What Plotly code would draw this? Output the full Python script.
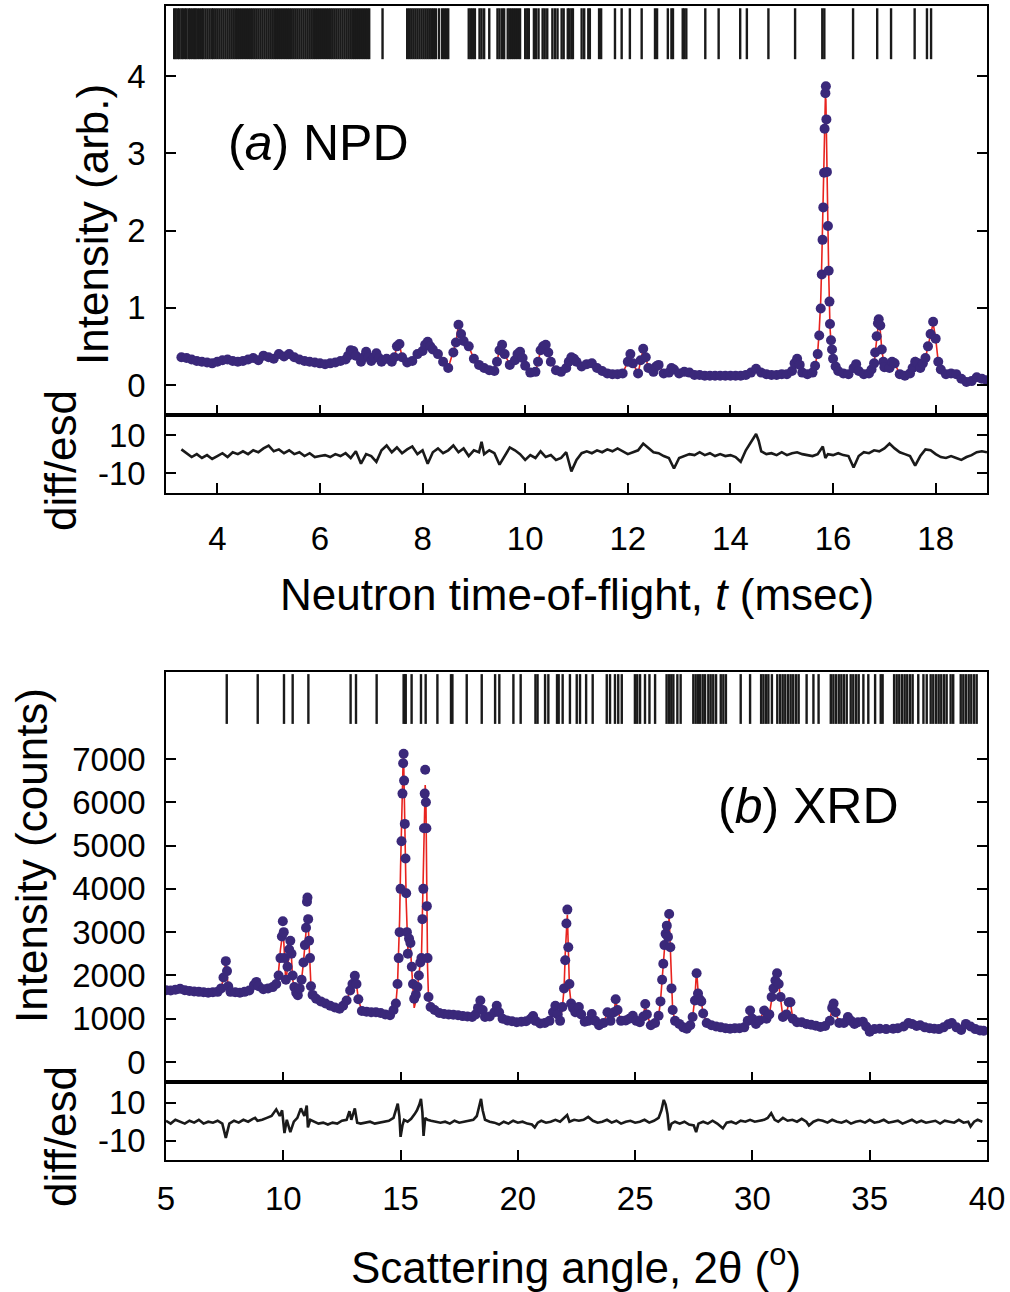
import plotly.graph_objects as go

# ---------------- (a) NPD data ----------------
npd_t = [
    3.3, 3.4, 3.5, 3.6, 3.7, 3.8, 3.9, 4.0, 4.1, 4.2,
    4.3, 4.4, 4.5, 4.6, 4.7, 4.8, 4.9, 5.0, 5.1, 5.2,
    5.3, 5.4, 5.5, 5.6, 5.7, 5.8, 5.9, 6.0, 6.1, 6.2,
    6.3, 6.4, 6.5, 6.55, 6.6, 6.65, 6.7, 6.8, 6.85, 6.9,
    6.95, 7.0, 7.05, 7.1, 7.15, 7.2, 7.3, 7.4, 7.45, 7.5,
    7.55, 7.6, 7.7, 7.8, 7.9, 8.0, 8.05, 8.1, 8.15, 8.2,
    8.3, 8.4, 8.5, 8.6, 8.65, 8.7, 8.75, 8.8, 8.9, 9.0,
    9.1, 9.2, 9.3, 9.4, 9.45, 9.5, 9.55, 9.6, 9.7, 9.8,
    9.85, 9.9, 9.95, 10.0, 10.1, 10.2, 10.25, 10.3, 10.35, 10.4,
    10.45, 10.5, 10.6, 10.7, 10.8, 10.85, 10.9, 10.95, 11.0, 11.1,
    11.2, 11.3, 11.4, 11.5, 11.6, 11.7, 11.8, 11.9, 12.0, 12.05,
    12.1, 12.2, 12.25, 12.3, 12.35, 12.4, 12.5, 12.55, 12.6, 12.7,
    12.8, 12.85, 12.9, 13.0, 13.1, 13.2, 13.3, 13.4, 13.5, 13.6,
    13.7, 13.8, 13.9, 14.0, 14.1, 14.2, 14.3, 14.4, 14.5, 14.6,
    14.7, 14.8, 14.9, 15.0, 15.1, 15.2, 15.25, 15.3, 15.35, 15.4,
    15.5, 15.6, 15.65, 15.7, 15.73, 15.76, 15.78, 15.795, 15.81, 15.825,
    15.835, 15.85, 15.86, 15.87, 15.88, 15.9, 15.915, 15.93, 15.94, 15.96,
    15.98, 16.0, 16.05, 16.1, 16.2, 16.3, 16.4, 16.45, 16.5, 16.6,
    16.7, 16.75, 16.8, 16.82, 16.85, 16.875, 16.89, 16.92, 16.95, 16.98,
    17.0, 17.1, 17.15, 17.2, 17.3, 17.4, 17.5, 17.55, 17.6, 17.65,
    17.7, 17.75, 17.8, 17.85, 17.9, 17.95, 18.0, 18.05, 18.1, 18.2,
    18.3, 18.4, 18.5, 18.6, 18.7, 18.8, 18.9, 19.0,
]
npd_obs = [
    .36, .35, .33, .31, .30, .29, .28, .30, .32, .33,
    .31, .30, .31, .33, .35, .32, .38, .36, .34, .40,
    .37, .40, .36, .33, .31, .30, .29, .28, .27, .28,
    .29, .31, .33, .38, .45, .44, .38, .30, .36, .43,
    .36, .31, .36, .41, .35, .30, .34, .30, .36, .50,
    .53, .36, .29, .31, .40, .44, .52, .56, .50, .46,
    .40, .30, .22, .42, .55, .78, .66, .57, .50, .34,
    .26, .22, .19, .18, .30, .45, .52, .40, .26, .32,
    .40, .43, .35, .25, .16, .17, .30, .45, .50, .52,
    .42, .30, .19, .17, .22, .30, .36, .34, .30, .24,
    .27, .28, .22, .18, .15, .14, .14, .15, .30, .40,
    .28, .15, .32, .47, .36, .22, .17, .24, .26, .15,
    .16, .22, .20, .15, .17, .16, .13, .13, .12, .12,
    .12, .12, .12, .12, .12, .12, .13, .16, .21, .16,
    .14, .13, .13, .14, .14, .18, .28, .34, .26, .16,
    .14, .16, .25, .40, .64, .99, 1.43, 1.88, 2.30, 2.75,
    3.32, 3.78, 3.87, 3.44, 2.76, 2.06, 1.48, 1.08, .79, .58,
    .46, .34, .24, .18, .15, .14, .22, .27, .18, .14,
    .15, .20, .28, .42, .63, .80, .85, .77, .46, .30,
    .23, .22, .30, .28, .14, .12, .15, .22, .30, .28,
    .22, .28, .35, .50, .66, .82, .60, .30, .20, .14,
    .15, .14, .08, .04, .05, .10, .08, .06,
]
# calculated profile: where it is not listed here it lies on the observed points
npd_calc_peaks = {
    15.7: .42, 15.73: .70, 15.76: 1.10, 15.78: 1.60, 15.795: 2.10, 15.81: 2.70,
    15.825: 3.20, 15.835: 3.50, 15.85: 3.72, 15.86: 3.70, 15.87: 3.40, 15.88: 2.80,
    15.915: 1.45, 15.93: 1.00, 15.94: .75, 15.96: .55, 15.98: .42, 16.0: .32,
    16.45: .31, 16.875: .74, 16.89: .76, 16.92: .70, 17.6: .36, 17.65: .31, 17.95: .80,
}
npd_diff_t = [
    3.3, 3.4, 3.5, 3.6, 3.7, 3.8, 3.9, 4.0, 4.1, 4.2,
    4.3, 4.4, 4.5, 4.6, 4.7, 4.8, 4.9, 5.0, 5.1, 5.2,
    5.3, 5.4, 5.5, 5.6, 5.7, 5.8, 5.9, 6.0, 6.1, 6.2,
    6.3, 6.4, 6.5, 6.6, 6.7, 6.8, 6.9, 7.0, 7.1, 7.2,
    7.3, 7.4, 7.5, 7.6, 7.7, 7.8, 7.9, 8.0, 8.1, 8.2,
    8.3, 8.4, 8.5, 8.6, 8.7, 8.8, 8.9, 9.0, 9.1, 9.15,
    9.2, 9.3, 9.4, 9.5, 9.6, 9.7, 9.8, 9.9, 10.0, 10.1,
    10.2, 10.3, 10.4, 10.5, 10.6, 10.7, 10.8, 10.9, 11.0, 11.1,
    11.2, 11.3, 11.4, 11.5, 11.6, 11.7, 11.8, 11.9, 12.0, 12.1,
    12.2, 12.3, 12.4, 12.5, 12.6, 12.7, 12.8, 12.9, 13.0, 13.1,
    13.2, 13.3, 13.4, 13.5, 13.6, 13.7, 13.8, 13.9, 14.0, 14.1,
    14.2, 14.3, 14.4, 14.5, 14.55, 14.6, 14.7, 14.8, 14.9, 15.0,
    15.1, 15.2, 15.3, 15.4, 15.5, 15.6, 15.7, 15.8, 15.85, 15.9,
    16.0, 16.1, 16.2, 16.3, 16.4, 16.5, 16.6, 16.7, 16.8, 16.9,
    17.0, 17.1, 17.2, 17.3, 17.4, 17.5, 17.6, 17.7, 17.8, 17.9,
    18.0, 18.1, 18.2, 18.3, 18.4, 18.5, 18.6, 18.7, 18.8, 18.9,
    19.0,
]
npd_diff = [
    2.5, 0.5, -1.5, 0, -2, -0.5, -2.5, -1, 0.5, -1.5,
    1, 0, 1.5, 0, 2, 1, 3, 4.5, 1.5, 2.5,
    0.5, 2, 0, 1, -1, 0.5, -1.5, -1, -0.5, -1.5,
    0, -1, 0.5, -2, 1.5, -5, 0, -1, -4, 2,
    4.5, 1, 3.5, 0.5, 2.5, 4, 0, 2, -5, 1,
    3, 0.5, 2, 4.5, 1, 3, -1, 2, 1, 6.5,
    0, 2, 0.5, -5.5, -1, 3.5, 2, 0, -3, -0.5,
    -2, 1.5, -1.5, -0.5, -3, -2, 1, -9, -3, 0.5,
    1.5, 0.5, 2, 1, 2.5, 1.5, 3, 1.5, 0, 1,
    2, 5.5, 3, 1, 0.5, -1, -2, -7.5, -2, -1,
    0, -0.5, 1, -0.5, 0.5, -1, 0, -1, -0.5, -1.5,
    -4, 2, 6, 10.5, 7, 1.5, 0, 0.5, -0.5, 1,
    -0.5, 0.5, 1, 0, -0.5, -1, 0, 4, -2, 0,
    -0.5, 0.5, -0.5, -1, -7, -1, 1, 0.5, 2, 1.5,
    3, 5.5, 3, 1, 0, -1, -6, -1, 2.5, 2,
    0, -1.5, -2, -1, -2, -3, -1.5, -0.5, 1, 1.5,
    1,
]
npd_reflections = [
    3.16, 3.19, 3.23, 3.26, 3.30, 3.33, 3.37, 3.40, 3.44, 3.47, 3.51, 3.55,
    3.58, 3.62, 3.66, 3.70, 3.73, 3.77, 3.81, 3.85, 3.89, 3.92, 3.96, 4.00,
    4.04, 4.08, 4.12, 4.16, 4.20, 4.24, 4.28, 4.32, 4.36, 4.40, 4.44, 4.48,
    4.52, 4.56, 4.60, 4.64, 4.68, 4.72, 4.76, 4.80, 4.84, 4.88, 4.92, 4.96,
    5.00, 5.04, 5.08, 5.12, 5.16, 5.20, 5.24, 5.28, 5.32, 5.36, 5.40, 5.44,
    5.48, 5.52, 5.56, 5.60, 5.64, 5.68, 5.72, 5.76, 5.80, 5.84, 5.88, 5.92,
    5.96, 6.00, 6.04, 6.08, 6.12, 6.16, 6.20, 6.24, 6.28, 6.32, 6.36, 6.40,
    6.44, 6.48, 6.52, 6.56, 6.60, 6.64, 6.68, 6.72, 6.76, 6.80, 6.84, 6.88,
    6.92, 6.96, 7.22, 7.70, 7.74, 7.78, 7.82, 7.86, 7.90, 7.94, 7.98, 8.02,
    8.06, 8.10, 8.14, 8.18, 8.22, 8.26, 8.32, 8.38, 8.42, 8.46, 8.50, 8.90,
    8.94, 8.98, 9.02, 9.11, 9.15, 9.20, 9.30, 9.46, 9.50, 9.55, 9.59, 9.66,
    9.70, 9.74, 9.78, 9.82, 9.86, 9.90, 10.00, 10.04, 10.07, 10.17, 10.21,
    10.26, 10.34, 10.38, 10.43, 10.53, 10.58, 10.63, 10.71, 10.75, 10.83,
    10.86, 10.90, 10.93, 11.10, 11.15, 11.23, 11.26, 11.44, 11.48, 11.75,
    11.88, 12.04, 12.27, 12.53, 12.57, 12.78, 12.85, 12.88, 13.07, 13.10,
    13.14, 13.51, 13.77, 14.19, 14.32, 14.74, 15.26, 15.79, 15.83, 16.39,
    16.86, 17.13, 17.59, 17.83, 17.91,
]

# ---------------- (b) XRD data ----------------
xrd_2theta = [
    5.0, 5.2, 5.4, 5.6, 5.8, 6.0, 6.2, 6.4, 6.6, 6.8,
    7.0, 7.2, 7.35, 7.45, 7.55, 7.6, 7.65, 7.75, 7.95, 8.15,
    8.35, 8.55, 8.75, 8.85, 8.95, 9.15, 9.35, 9.55, 9.7, 9.8,
    9.88, 9.94, 9.98, 10.02, 10.06, 10.11, 10.18, 10.25, 10.3, 10.35,
    10.4, 10.47, 10.55, 10.62, 10.7, 10.78, 10.86, 10.92, 10.97, 11.01,
    11.03, 11.06, 11.1, 11.14, 11.18, 11.25, 11.4, 11.6, 11.8, 12.0,
    12.2, 12.4, 12.55, 12.7, 12.85, 12.95, 13.05, 13.12, 13.2, 13.35,
    13.55, 13.75, 13.95, 14.15, 14.35, 14.55, 14.7, 14.8, 14.87, 14.92,
    14.96, 15.0, 15.04, 15.08, 15.11, 15.13, 15.15, 15.18, 15.21, 15.24,
    15.27, 15.31, 15.36, 15.42, 15.48, 15.53, 15.58, 15.65, 15.72, 15.78,
    15.84, 15.89, 15.93, 15.97, 16.0, 16.03, 16.05, 16.08, 16.1, 16.12,
    16.15, 16.19, 16.28, 16.45, 16.65, 16.85, 17.05, 17.25, 17.45, 17.65,
    17.85, 18.05, 18.2, 18.3, 18.4, 18.5, 18.6, 18.8, 19.0, 19.1,
    19.2, 19.35, 19.55, 19.75, 19.95, 20.15, 20.35, 20.55, 20.65, 20.75,
    20.95, 21.15, 21.35, 21.5, 21.6, 21.7, 21.8, 21.9, 21.97, 22.02,
    22.07, 22.11, 22.15, 22.2, 22.27, 22.35, 22.45, 22.6, 22.7, 22.85,
    23.0, 23.15, 23.3, 23.46, 23.65, 23.82, 23.95, 24.1, 24.17, 24.25,
    24.4, 24.6, 24.75, 24.9, 25.05, 25.2, 25.35, 25.43, 25.5, 25.67,
    25.85, 26.0, 26.08, 26.15, 26.2, 26.25, 26.3, 26.35, 26.4, 26.45,
    26.5, 26.55, 26.6, 26.7, 26.88, 27.05, 27.2, 27.35, 27.45, 27.55,
    27.62, 27.68, 27.75, 27.82, 27.9, 28.05, 28.25, 28.45, 28.65, 28.85,
    29.05, 29.25, 29.45, 29.65, 29.8, 29.9, 30.0, 30.15, 30.3, 30.5,
    30.6, 30.72, 30.82, 30.9, 30.98, 31.05, 31.12, 31.2, 31.3, 31.45,
    31.55, 31.62, 31.72, 31.9, 32.1, 32.3, 32.5, 32.7, 32.9, 33.1,
    33.3, 33.4, 33.46, 33.55, 33.7, 33.9, 34.07, 34.2, 34.35, 34.5,
    34.71, 34.85, 35.0, 35.2, 35.43, 35.7, 36.0, 36.2, 36.45, 36.65,
    36.8, 37.0, 37.15, 37.35, 37.55, 37.75, 37.95, 38.15, 38.35, 38.5,
    38.7, 38.9, 39.1, 39.3, 39.5, 39.7, 39.85,
]
xrd_obs = [
    1660, 1650, 1670, 1690, 1660, 1640, 1630, 1620, 1610, 1600,
    1610, 1620, 1700, 1950, 2330, 2100, 1750, 1620, 1610, 1600,
    1620, 1650, 1780, 1850, 1750, 1680, 1700, 1730, 1800, 2000,
    2400, 2900, 3250, 3000, 2400, 1900, 2200, 2600, 2800, 2500,
    2000, 1730, 1600, 1540, 1700, 1900, 2300, 2700, 3100, 3700,
    3800, 3300, 2800, 2400, 1750, 1550, 1460, 1400, 1350, 1300,
    1260, 1230, 1300, 1420, 1650, 1800, 1990, 1800, 1450, 1180,
    1160, 1150, 1150, 1130, 1100, 1080, 1200, 1350, 1800, 2400,
    3000, 4000, 5100, 6200, 6900, 7120, 6500, 5500, 4700, 3900,
    3000, 2500, 2850, 2750, 2200, 1800, 1460, 1550, 1730, 2000,
    2300, 2400, 3300, 4000, 5400, 6200, 6750, 6000, 5400, 3600,
    2400, 1500, 1270, 1200, 1130, 1110, 1100, 1090, 1080, 1060,
    1050, 1040, 1100, 1250, 1420, 1200, 1040, 1050, 1150, 1300,
    1150, 1000, 960, 940, 920, 930, 940, 1000, 1060, 950,
    890, 900, 950, 1150, 1300, 1100, 950, 1270, 1700, 2350,
    3200, 3520, 2650, 1800, 1350, 1250, 1150, 1270, 1100, 930,
    950, 1110, 950, 850, 900, 1150, 950, 1150, 1450, 1200,
    950, 960, 1000, 1070, 950, 920, 1050, 1340, 1100, 850,
    900, 1070, 1400, 1900, 2270, 2700, 2960, 3150, 2890, 3420,
    2650, 1700, 1200, 950, 880, 800, 770, 850, 1040, 1420,
    2050, 1580, 1450, 1400, 1120, 900, 850, 820, 800, 780,
    770, 780, 780, 800, 950, 1190, 1000, 880, 960, 1190,
    1000, 1100, 1500, 1700, 1880, 2050, 1800, 1500, 1040, 1100,
    1380, 1380, 1000, 920, 920, 880, 860, 840, 810, 830,
    950, 1250, 1350, 1150, 900, 900, 1040, 950, 880, 920,
    930, 820, 700, 760, 770, 760, 770, 780, 820, 900,
    880, 830, 850, 800, 780, 770, 760, 800, 870, 900,
    800, 740, 880, 820, 760, 730, 720,
]
# calculated profile: where it is not listed here it lies on the observed points
xrd_calc_peaks = {
    9.8: 2100, 9.88: 2600, 9.94: 2950, 9.98: 3000, 10.02: 2800, 10.06: 2300,
    10.11: 1800, 10.25: 2500, 10.3: 2650, 10.35: 2400, 10.4: 1900,
    10.97: 3000, 11.01: 3400, 11.03: 3400, 11.06: 3200, 11.14: 2200, 13.05: 1950,
    14.92: 2500, 14.96: 3300, 15.0: 4500, 15.04: 5600, 15.08: 6500, 15.11: 7000,
    15.13: 7050, 15.15: 6600, 15.18: 5600, 15.21: 4600, 15.24: 3700, 15.27: 2900,
    15.31: 2600, 15.36: 2800, 15.42: 2650, 15.48: 2100, 15.53: 1600, 15.58: 1250,
    15.65: 1400, 15.78: 2100, 15.97: 4200, 16.05: 6400, 16.08: 6100, 16.1: 5000,
    16.12: 3400, 16.15: 2200, 18.4: 1350, 19.1: 1330, 20.65: 1090,
    22.02: 2500, 22.11: 3400, 22.2: 1700, 26.4: 3000, 26.45: 3350, 26.55: 1800,
    27.55: 1500, 27.62: 2150, 27.68: 1650, 31.05: 2000,
}
xrd_diff_2theta = [
    5.0, 5.2, 5.4, 5.6, 5.8, 6.0, 6.2, 6.4, 6.6, 6.8,
    7.0, 7.2, 7.4, 7.55, 7.7, 7.9, 8.1, 8.3, 8.5, 8.7,
    8.8, 8.9, 9.1, 9.3, 9.5, 9.7, 9.85, 9.95, 10.05, 10.15,
    10.3, 10.45, 10.6, 10.75, 10.9, 11.0, 11.05, 11.15, 11.3, 11.5,
    11.7, 11.9, 12.1, 12.3, 12.5, 12.7, 12.82, 12.9, 13.05, 13.15,
    13.3, 13.5, 13.7, 13.9, 14.1, 14.3, 14.5, 14.7, 14.88, 14.95,
    15.0, 15.08, 15.15, 15.3, 15.45, 15.6, 15.7, 15.8, 15.87, 15.93,
    15.98, 16.05, 16.15, 16.3, 16.5, 16.7, 16.9, 17.1, 17.3, 17.5,
    17.7, 17.9, 18.1, 18.25, 18.35, 18.43, 18.5, 18.6, 18.8, 19.0,
    19.2, 19.4, 19.6, 19.8, 20.0, 20.2, 20.4, 20.6, 20.72, 20.85,
    21.0, 21.2, 21.4, 21.6, 21.8, 22.0, 22.1, 22.2, 22.4, 22.6,
    22.8, 23.0, 23.2, 23.4, 23.6, 23.8, 24.0, 24.2, 24.4, 24.6,
    24.8, 25.0, 25.2, 25.4, 25.6, 25.8, 26.0, 26.12, 26.22, 26.3,
    26.38, 26.45, 26.55, 26.7, 26.9, 27.1, 27.3, 27.5, 27.6, 27.7,
    27.9, 28.1, 28.3, 28.5, 28.74, 28.9, 29.1, 29.3, 29.5, 29.7,
    29.9, 30.1, 30.3, 30.5, 30.65, 30.8, 30.95, 31.1, 31.3, 31.5,
    31.7, 31.9, 32.1, 32.3, 32.41, 32.6, 32.8, 33.0, 33.2, 33.4,
    33.6, 33.8, 34.0, 34.2, 34.4, 34.6, 34.8, 35.0, 35.2, 35.4,
    35.6, 35.8, 36.0, 36.2, 36.4, 36.6, 36.8, 37.0, 37.2, 37.4,
    37.6, 37.8, 38.0, 38.2, 38.4, 38.6, 38.8, 39.0, 39.2, 39.3,
    39.45, 39.6, 39.8,
]
xrd_diff = [
    0.5, -1, 1, 0, -1, 0.5, -0.5, 1, -1, 0,
    -0.5, 0.5, -1, -8.5, -1, 0.5, -0.5, 1, 0, 1.5,
    2, 0.5, 1, 2, 3, 6.5, 3, 6, -6, 1,
    -5.5, 0, 2, 7, 3, 8.5, -3, 1, 0, -1,
    -0.5, -1.5, -0.5, -1, 0.5, 1, 5.5, 1, 7, -0.5,
    -1, -0.5, 0, -1, -0.5, 0, 0.5, 2, 9.5, 3,
    -8, -2, 1, 0, 1.5, 4, 6, 9, 12, 5,
    -7.5, 2, 1, 0.5, 0, -0.5, 0, -1, 0.5, -0.5,
    0, 0.5, 1, 3, 8, 12, 6, 1, 0, -0.5,
    -1.5, 0, -1, 0.5, -0.5, 0, -1, -1.5, -3, -0.5,
    0.5, -0.5, 0, 1, 0, 2, 3.5, 0, 1, 0.5,
    1, 2.5, 0.5, -0.5, 0, 1, -0.5, 0.5, -1, 0,
    0.5, -0.5, 0, 1, -0.5, 0.5, 2, 6, 11.5, 9,
    4, -4.5, -1, 0, -1, 0, -1.5, -2, -5.5, -1,
    0, -1, 0.5, -1, -3.5, -0.5, 0, -1, 0.5, 0,
    1, 0, 0.5, 1, 2, 4.5, 1, 0, 2, 0.5,
    1, 0, 1.5, 0, -2, 0, 1, 0.5, -0.5, 1,
    0, -0.5, 0.5, -1, 0, 0.5, -0.5, 1, -0.5, 0,
    1, -0.5, 0, 0.5, -1, 0, 1, -0.5, 0.5, -0.5,
    0, 0.5, -1, 0.5, 0, -0.5, 1, -0.5, 0, -2.5,
    0, 1, 0,
]
xrd_reflections = [
    7.59, 8.91, 10.03, 10.40, 11.07, 12.87, 13.10, 13.98, 15.13, 15.19,
    15.22, 15.47, 15.87, 16.07, 16.57, 17.15, 17.21, 17.82, 18.46, 19.03,
    19.21, 19.81, 20.12, 20.75, 20.84, 21.16, 21.30, 21.67, 21.74, 21.91,
    22.22, 22.51, 22.65, 22.91, 23.19, 23.79, 23.93, 24.14, 24.28, 24.43,
    24.99, 25.09, 25.21, 25.42, 25.61, 25.85, 26.34, 26.44, 26.54, 26.63,
    26.80, 26.94, 27.48, 27.58, 27.68, 27.77, 27.88, 27.98, 28.12, 28.22,
    28.33, 28.45, 28.65, 28.76, 28.87, 29.50, 29.90, 30.37, 30.47, 30.58,
    30.68, 30.83, 31.06, 31.18, 31.29, 31.40, 31.52, 31.63, 31.74, 31.86,
    31.97, 32.31, 32.60, 32.82, 33.34, 33.45, 33.56, 33.68, 33.79, 33.90,
    34.02, 34.19, 34.30, 34.42, 34.53, 34.73, 34.94, 35.23, 35.47, 35.55,
    36.04, 36.15, 36.26, 36.38, 36.49, 36.60, 36.72, 36.83, 37.07, 37.29,
    37.43, 37.60, 37.71, 37.83, 37.94, 38.05, 38.17, 38.28, 38.45, 38.56,
    38.88, 38.99, 39.10, 39.22, 39.33, 39.45, 39.56,
]

npd_calc = [npd_calc_peaks.get(t, v) for t, v in zip(npd_t, npd_obs)]
xrd_calc = [xrd_calc_peaks.get(t, v) for t, v in zip(xrd_2theta, xrd_obs)]

# ---------------- styling ----------------
W, H = 1010, 1292
FONT = "Liberation Sans, Arial, Helvetica, sans-serif"
OBS = "#3a287a"
CALC = "#e8231f"
LINE = "#1a1a1a"
TICK_FS = 33
TITLE_FS = 44
PANEL_FS = 50


def px(x):
    return min(1.0, max(0.0, x / W))


def py(y):
    return min(1.0, max(0.0, 1 - y / H))


def segments(pos, y0, y1):
    xs, ys = [], []
    for p in pos:
        xs += [p, p, None]
        ys += [y0, y1, None]
    return xs, ys


fig = go.Figure()

# panel (a)
rx, ry = segments(npd_reflections, 4.22, 4.88)
fig.add_trace(go.Scatter(x=rx, y=ry, mode="lines", line=dict(color=LINE, width=2.4),
                         xaxis="x", yaxis="y", hoverinfo="skip"))
fig.add_trace(go.Scatter(x=npd_t, y=npd_calc, mode="lines", line=dict(color=CALC, width=1.6),
                         xaxis="x", yaxis="y"))
fig.add_trace(go.Scatter(x=npd_t, y=npd_obs, mode="markers",
                         marker=dict(color=OBS, size=10, line=dict(width=0)),
                         xaxis="x", yaxis="y"))
fig.add_trace(go.Scatter(x=npd_diff_t, y=npd_diff, mode="lines", line=dict(color=LINE, width=2.6),
                         xaxis="x2", yaxis="y2"))

# panel (b)
rx, ry = segments(xrd_reflections, 7810, 8960)
fig.add_trace(go.Scatter(x=rx, y=ry, mode="lines", line=dict(color=LINE, width=2.4),
                         xaxis="x3", yaxis="y3", hoverinfo="skip"))
fig.add_trace(go.Scatter(x=xrd_2theta, y=xrd_calc, mode="lines", line=dict(color=CALC, width=1.6),
                         xaxis="x3", yaxis="y3"))
fig.add_trace(go.Scatter(x=xrd_2theta, y=xrd_obs, mode="markers",
                         marker=dict(color=OBS, size=10, line=dict(width=0)),
                         xaxis="x3", yaxis="y3"))
fig.add_trace(go.Scatter(x=xrd_diff_2theta, y=xrd_diff, mode="lines", line=dict(color=LINE, width=2.6),
                         xaxis="x4", yaxis="y4"))

common = dict(showgrid=False, zeroline=False, showline=True, linecolor="black", linewidth=1.5,
              ticks="inside", ticklen=10, tickwidth=1.5, tickcolor="black", automargin=False,
              ticklabeloverflow="allow",
              tickfont=dict(family=FONT, size=TICK_FS, color="black"))
XDOM = [px(166), px(987)]

fig.update_layout(
    width=W, height=H,
    margin=dict(l=0, r=0, t=0, b=0, pad=0),
    paper_bgcolor="white", plot_bgcolor="white",
    showlegend=False,
    font=dict(family=FONT, color="black"),
    xaxis=dict(common, domain=XDOM, anchor="y", range=[3, 19],
               tickvals=[4, 6, 8, 10, 12, 14, 16, 18], showticklabels=False, mirror=True),
    yaxis=dict(common, domain=[py(415), py(6)], anchor="x", range=[-0.389, 4.909],
               tickvals=[0, 1, 2, 3, 4], mirror="ticks", ticklabelstandoff=12),
    xaxis2=dict(common, domain=XDOM, anchor="y2", range=[3, 19],
                tickvals=[4, 6, 8, 10, 12, 14, 16, 18], mirror=True, ticklabelstandoff=16),
    yaxis2=dict(common, domain=[py(493), py(415)], anchor="x2", range=[-20.28, 20.44],
                tickvals=[-10, 10], ticktext=["-10", "10"], mirror="ticks", ticklabelstandoff=12),
    xaxis3=dict(common, domain=XDOM, anchor="y3", range=[5, 40],
                tickvals=[10, 15, 20, 25, 30, 35], showticklabels=False, mirror=True),
    yaxis3=dict(common, domain=[py(1082), py(672)], anchor="x3", range=[-462, 9009],
                tickvals=[0, 1000, 2000, 3000, 4000, 5000, 6000, 7000], mirror="ticks",
                ticklabelstandoff=12),
    xaxis4=dict(common, domain=XDOM, anchor="y4", range=[5, 40],
                tickvals=[5, 10, 15, 20, 25, 30, 35, 40], mirror=True, ticklabelstandoff=9),
    yaxis4=dict(common, domain=[py(1160), py(1082)], anchor="x4", range=[-20.16, 20.9],
                tickvals=[-10, 10], ticktext=["-10", "10"], mirror="ticks", ticklabelstandoff=12),
)


def label(text, x, y, size, angle=0):
    fig.add_annotation(text=text, x=px(x), y=py(y), xref="paper", yref="paper",
                       xanchor="center", yanchor="middle", showarrow=False, textangle=angle,
                       font=dict(family=FONT, size=size, color="black"))


label("Intensity (arb.)", 92, 225, TITLE_FS, -90)
label("diff/esd", 60, 461, TITLE_FS, -90)
label("Neutron time-of-flight, <i>t</i> (msec)", 577, 594, TITLE_FS)
label("(<i>a</i>) NPD", 318, 143, PANEL_FS)
label("Intensity (counts)", 31, 856, TITLE_FS, -90)
label("diff/esd", 60, 1137, TITLE_FS, -90)
label("Scattering angle, 2θ (<sup>o</sup>)", 576, 1264, TITLE_FS)
label("(<i>b</i>) XRD", 808, 806, PANEL_FS)

# the page body has a default 8 px margin; remove it so the figure fills the window
fig.write_html("out.html",
               config={"displayModeBar": False},
               post_script="document.body.style.margin='0';document.body.style.overflow='hidden';")
